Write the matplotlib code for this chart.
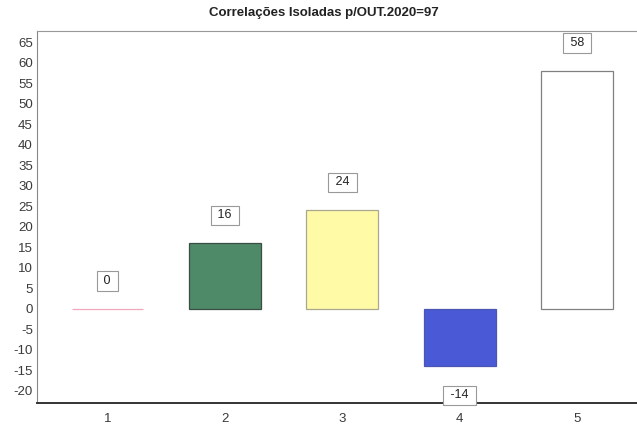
import matplotlib
matplotlib.use("Agg")
import matplotlib.pyplot as plt

plt.rcParams["font.family"] = ["Liberation Sans", "DejaVu Sans"]
plt.rcParams["axes.unicode_minus"] = False

# Isolated correlation scores per category
categories = [1, 2, 3, 4, 5]
values = [0, 16, 24, -14, 58]
bar_colors = ["#f4c8d4", "#4f8a68", "#fffaa6", "#4a5ad6", "#ffffff"]
edge_colors = ["#f0a8bc", "#3a4e44", "#a8a890", "#4a56b0", "#808080"]
yticks = list(range(-20, 70, 5))
title = "Correlações Isoladas p/OUT.2020=97"

fig = plt.figure(figsize=(6.37, 4.25), dpi=100)
ax = fig.add_axes([37 / 637, 1 - 403 / 425, 600 / 637, 372 / 425])

bars = ax.bar(categories, values, width=0.61, color=bar_colors,
              edgecolor=edge_colors, linewidth=0.9)

for x, v in zip(categories, values):
    off = 20 if v >= 0 else -21
    ax.annotate(f" {v} ", xy=(x, v), xytext=(0, off), textcoords="offset points",
                ha="center", va="center", fontsize=9, color="#222222",
                bbox=dict(boxstyle="square,pad=0.3", fc="white", ec="#999999", lw=0.8))

ax.set_xlim(0.4, 5.51)
ax.set_ylim(-23, 67.7)
ax.set_xticks(categories)
ax.set_yticks(yticks)
ax.tick_params(axis="both", length=0, labelsize=9.5, labelcolor="#3a3a3a")
ax.tick_params(axis="x", pad=7)
ax.tick_params(axis="y", pad=3)

ax.spines["right"].set_visible(False)
ax.spines["top"].set_color("#999999")
ax.spines["top"].set_linewidth(0.8)
ax.spines["left"].set_color("#888888")
ax.spines["left"].set_linewidth(0.8)
ax.spines["bottom"].set_color("#333333")
ax.spines["bottom"].set_linewidth(1.4)

fig.text(0.5 + 5 / 637, 1 - 13 / 425, title, ha="center", va="center",
         fontsize=9.5, fontweight="bold", color="#222222")

fig.savefig("out.png", dpi=100)
